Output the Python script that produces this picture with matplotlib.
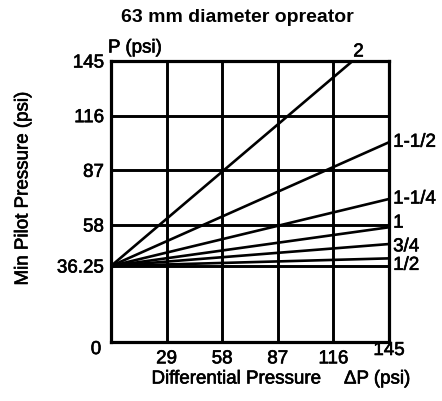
import numpy as np
import matplotlib
matplotlib.use("Agg")
import matplotlib.pyplot as plt
import matplotlib.patheffects as pe
from matplotlib.transforms import ScaledTranslation

plt.rcParams['font.family'] = ['Liberation Sans', 'DejaVu Sans']

# ---- data ----
sizes = ["2", "1-1/2", "1-1/4", "1", "3/4", "1/2"]
start_dp = 0.0
start_p = 36.25
end_dp = [126, 145, 145, 145, 145, 145]
end_p = [145, 101.9, 71.8, 56.8, 47.9, 40.3]
x_ticks = [29, 58, 87, 116, 145]
y_ticks = [0, 36.25, 58, 87, 116, 145]
y_tick_labels = ["0", "36.25", "58", "87", "116", "145"]
title = "63 mm diameter opreator"

# ---- figure ----
W, H = 442, 402
fig = plt.figure(figsize=(W / 100, H / 100), dpi=100)
def fx(x): return x / W
def fy(y): return 1 - y / H

heavy = [pe.withStroke(linewidth=0.45, foreground='black')]

ax = fig.add_axes([fx(111), fy(343), fx(389) - fx(111), fy(62) - fy(343)])

# piecewise y scale (chart is drawn with a stretched lower band)
_v = [0, 36.25, 145]
_p = [0, 76, 281]
ax.set_yscale('function', functions=(lambda v: np.interp(v, _v, _p),
                                     lambda p: np.interp(p, _p, _v)))
ax.set_xlim(0, 145)
ax.set_ylim(0, 145)

# grid
for xv in x_ticks[:-1]:
    ax.axvline(xv, color='black', lw=2.1, zorder=1)
for yv in y_ticks[1:-1]:
    ax.axhline(yv, color='black', lw=2.1, zorder=1)

# lines
label_offsets = [(4.3, 6.5, 'center'), (3, 0, 'left'), (3, 0, 'left'), (3, 3, 'left'),
                 (3, -2, 'left'), (3, -5, 'left')]
for s, xe, ye, (ox, oy, ha) in zip(sizes, end_dp, end_p, label_offsets):
    ax.plot([start_dp, xe], [start_p, ye], color='black', lw=1.9, zorder=3,
            solid_capstyle='butt', clip_on=False)
    ax.annotate(s, xy=(xe, ye), xytext=(ox, oy), textcoords='offset points',
                ha=ha, va='center', fontsize=13.5, annotation_clip=False,
                path_effects=heavy)

for sp in ax.spines.values():
    sp.set_linewidth(2.3)
    sp.set_color('black')

ax.set_xticks(x_ticks)
ax.set_xticklabels([str(v) for v in x_ticks], fontsize=13.5)
ax.set_yticks(y_ticks)
ax.set_yticklabels(y_tick_labels, fontsize=13.5)
ax.tick_params(length=0)
ax.tick_params(axis='x', pad=6)
ax.tick_params(axis='y', pad=5)
for t in ax.get_xticklabels() + ax.get_yticklabels():
    t.set_path_effects(heavy)
# raise 145 on x, lower 0 on y as in reference
lbl = ax.get_xticklabels()[-1]
lbl.set_transform(lbl.get_transform() + ScaledTranslation(0, 6 / 72, fig.dpi_scale_trans))
lbl0 = ax.get_yticklabels()[0]
lbl0.set_transform(lbl0.get_transform() + ScaledTranslation(-2 / 72, -4 / 72, fig.dpi_scale_trans))

# texts
fig.text(fx(237.5), fy(17), title, ha='center', va='center', fontsize=14, fontweight='bold')
fig.text(fx(108), fy(49), "P (psi)", ha='left', va='center', fontsize=13.5, path_effects=heavy)
fig.text(fx(23), fy(190), "Min Pilot Pressure (psi)", rotation=90, ha='center', va='center',
         fontsize=13.5, path_effects=heavy)
fig.text(fx(236), fy(380), "Differential Pressure", ha='center', va='center', fontsize=13.5,
         path_effects=heavy)
fig.text(fx(377), fy(380), "\u0394P (psi)", ha='center', va='center', fontsize=13.5,
         path_effects=heavy)

fig.savefig("out.png", dpi=100)
